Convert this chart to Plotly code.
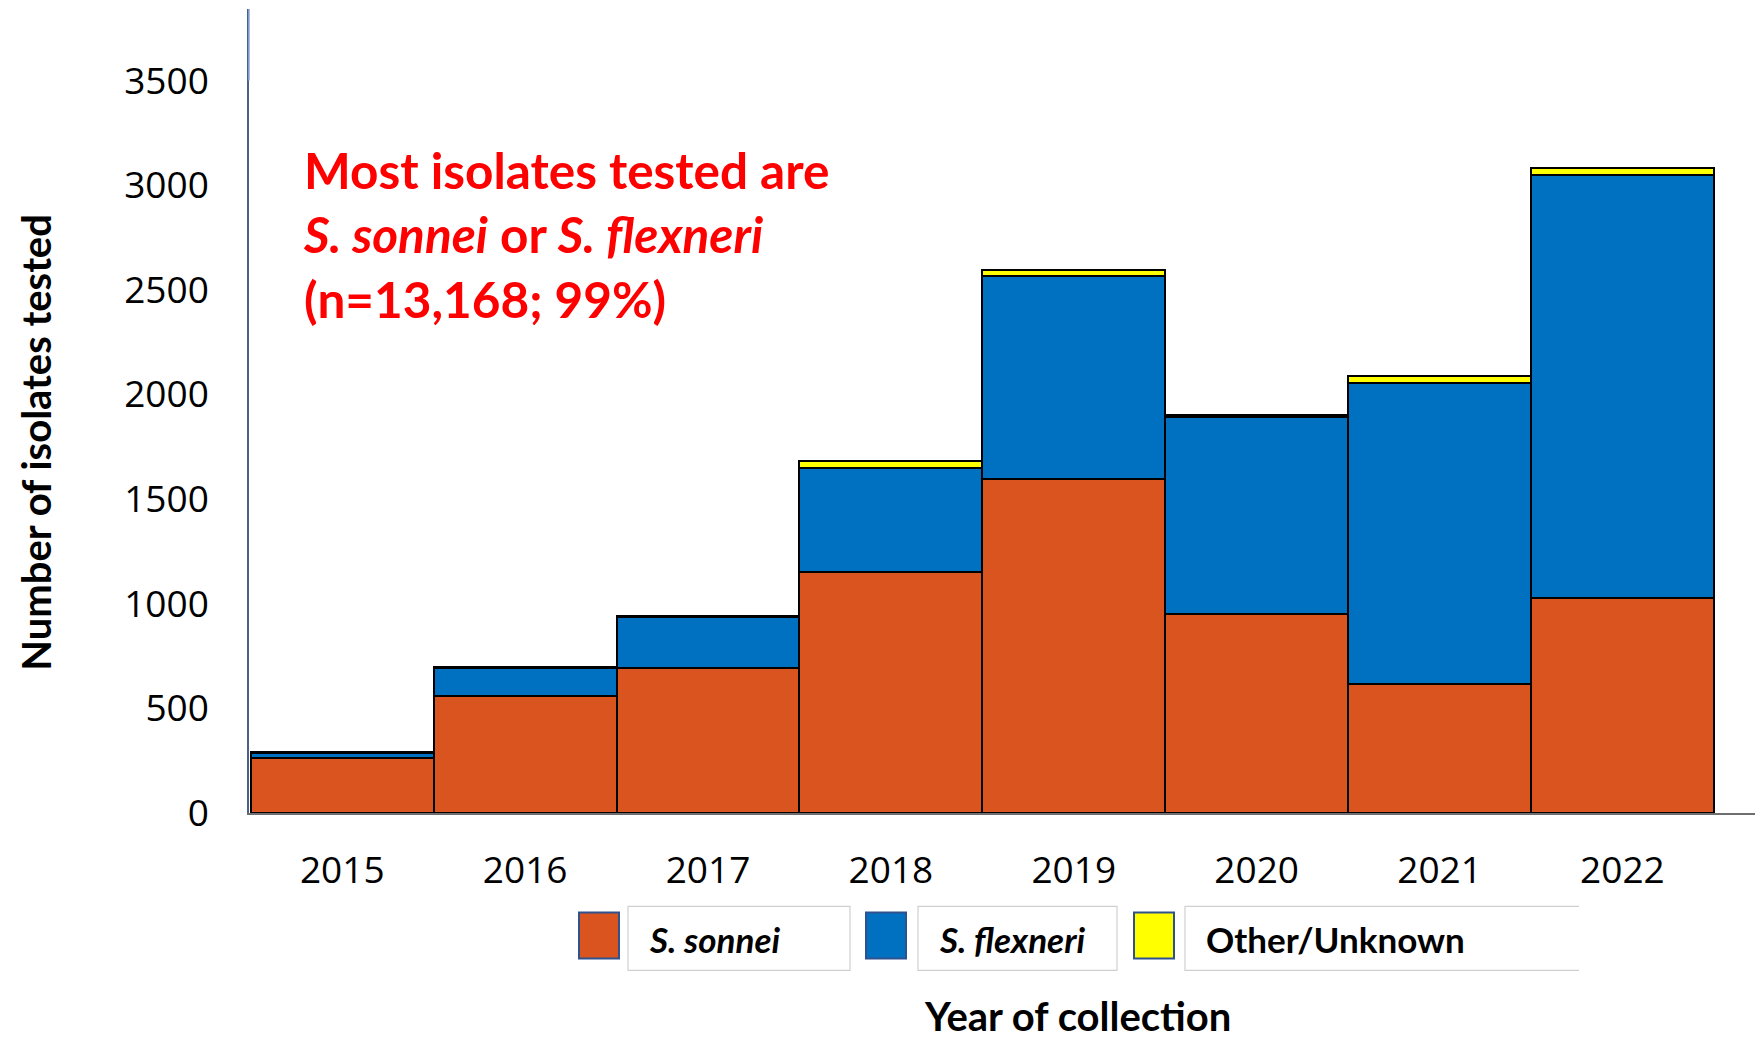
import plotly.graph_objects as go

years = ["2015", "2016", "2017", "2018", "2019", "2020", "2021", "2022"]
sonnei = [262, 560, 693, 1150, 1598, 951, 615, 1026]
flexneri = [25, 135, 246, 500, 970, 942, 1440, 2022]
other = [3, 3, 3, 30, 28, 7, 33, 32]

series_names = ["S. sonnei", "S. flexneri", "Other/Unknown"]
series_labels = ["<i>S. sonnei</i>", "<i>S. flexneri</i>", "Other/Unknown"]
series_colors = ["#D9541F", "#0070C0", "#FFFF00"]
series_values = [sonnei, flexneri, other]

y_ticks = [0, 500, 1000, 1500, 2000, 2500, 3000, 3500]

W, H = 1755, 1043
ML, MR, MT, MB = 249, 0, 9, 229.5
PW = W - ML - MR
PH = H - MT - MB


def px(x):
    return (x - ML) / PW


def py(y):
    return (H - MB - y) / PH


fig = go.Figure()
for name, vals, col in zip(series_names, series_values, series_colors):
    fig.add_trace(go.Bar(
        x=years, y=vals, name=name,
        marker=dict(color=col, line=dict(color="black", width=2)),
        showlegend=False,
    ))

fig.update_layout(
    width=W, height=H,
    barmode="stack", bargap=0,
    plot_bgcolor="white", paper_bgcolor="white",
    margin=dict(l=ML, r=MR, t=MT, b=MB),
    font=dict(family="Lato", color="black"),
    xaxis=dict(
        type="category", range=[-0.51, 7.725],
        showline=True, linecolor="#6e6e6e", linewidth=1.5,
        ticks="", showgrid=False,
        tickfont=dict(family="Open Sans", size=37, color="black"),
        ticklabelstandoff=24,
    ),
    yaxis=dict(
        range=[0, 3842],
        tickvals=y_ticks,
        showline=True, linecolor="#4a5f8a", linewidth=1.5,
        ticks="", showgrid=False, zeroline=False,
        tickfont=dict(family="Open Sans", size=37, color="black"),
        ticklabelstandoff=31,
    ),
)

annotations = []
# Y axis title
annotations.append(dict(
    text="<b>Number of isolates tested</b>", x=px(36), y=py(442),
    xref="paper", yref="paper", textangle=-90, showarrow=False,
    xanchor="center", yanchor="middle",
    font=dict(family="Lato", size=40, color="black"),
))
# X axis title
annotations.append(dict(
    text="<b>Year of collection</b>", x=px(1077), y=py(1043),
    xref="paper", yref="paper", showarrow=False,
    xanchor="center", yanchor="bottom",
    font=dict(family="Lato", size=40, color="black"),
))
# Red callout
annotations.append(dict(
    text="<b>Most isolates tested are<br><i>S. sonnei</i> or <i>S. flexneri</i><br>(n=13,168; 99%)</b>",
    x=px(301), y=py(235), xref="paper", yref="paper", showarrow=False,
    xanchor="left", yanchor="middle", align="left",
    font=dict(family="Lato", size=49.5, color="#FF0000"),
))

# Custom legend
swatch_x = [579, 866, 1134]
box_x = [(628, 850), (918, 1117), (1185, 1579)]
shapes = []
for i in range(3):
    if i < 2:
        shapes.append(dict(
            type="rect", xref="paper", yref="paper",
            x0=px(box_x[i][0]), x1=px(box_x[i][1]), y0=py(971), y1=py(907),
            line=dict(color="#d0d0d0", width=1.2), fillcolor="white", layer="above",
        ))
    else:
        x0, x1 = px(box_x[i][0]), px(box_x[i][1])
        y0, y1 = py(971), py(907)
        shapes.append(dict(
            type="path", xref="paper", yref="paper",
            path=f"M {x1} {y1} L {x0} {y1} L {x0} {y0} L {x1} {y0}",
            line=dict(color="#d0d0d0", width=1.2), layer="above",
        ))
    shapes.append(dict(
        type="rect", xref="paper", yref="paper",
        x0=px(swatch_x[i]), x1=px(swatch_x[i] + 40), y0=py(959), y1=py(913),
        line=dict(color="#2F528F", width=2), fillcolor=series_colors[i], layer="above",
    ))
    annotations.append(dict(
        text="<b>" + series_labels[i] + "</b>", x=px(box_x[i][0] + 19), y=py(940),
        xref="paper", yref="paper", showarrow=False,
        xanchor="left", yanchor="middle",
        font=dict(family="Lato", size=35, color="black"),
    ))

# lighter top segment of the value axis line
shapes.append(dict(
    type="line", xref="paper", yref="y",
    x0=0, x1=0, y0=y_ticks[-1], y1=3842,
    line=dict(color="#8FAADC", width=1.5), layer="above",
))

fig.update_layout(annotations=annotations, shapes=shapes)
fig.write_html("out.html")
